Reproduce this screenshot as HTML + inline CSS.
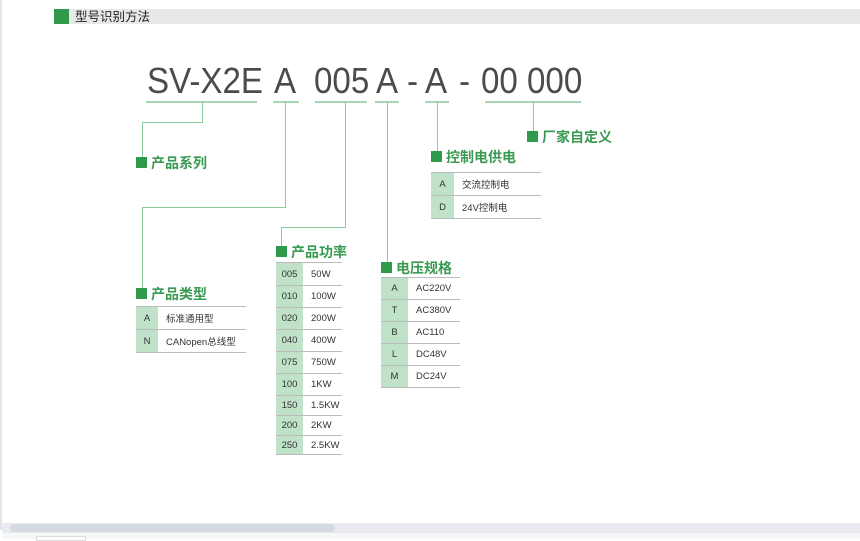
<!DOCTYPE html>
<html><head><meta charset="utf-8"><style>
body{margin:0;width:860px;height:539px;background:#fff;position:relative;overflow:hidden;font-family:"Liberation Sans","Noto Sans CJK SC",sans-serif}
.a{position:absolute}
.l{position:absolute;background:#8ccaa0}
.u{position:absolute;background:#a8d6b4;height:2px;top:101px}
.big{position:absolute;top:61px;font-size:36px;color:#4b4b4b;line-height:40px;transform:scaleX(0.92);transform-origin:left top}
.mk{position:absolute;width:11px;height:11px;background:#2f9a4c}
.lb{position:absolute;font-size:14px;font-weight:bold;color:#3a9a52;line-height:16px;white-space:nowrap}
table{position:absolute;border-collapse:collapse;font-size:9.5px;color:#333;border-top:1px solid #bbb}
td{border-bottom:1px solid #bbb;padding:0;line-height:normal}
td.k{background:#bfe2c9;text-align:center}
td.v{padding-left:8px}
</style></head><body>
<div class="a" style="left:0;top:0;width:2px;height:530px;background:#e4e4e4"></div>
<div class="a" style="left:54px;top:9px;width:806px;height:15px;background:#e8e8e8"></div>
<div class="a" style="left:54px;top:9px;width:15px;height:15px;background:#2f9a4c"></div>
<div class="a" style="left:75px;top:9px;font-size:12.5px;line-height:16px;color:#222">型号识别方法</div>

<div class="big" style="left:147px">SV-X2E</div>
<div class="big" style="left:274px">A</div>
<div class="big" style="left:314px">005</div>
<div class="big" style="left:376px">A</div>
<div class="big" style="left:407px">-</div>
<div class="big" style="left:425px">A</div>
<div class="big" style="left:459px">-</div>
<div class="big" style="left:481px">00</div>
<div class="big" style="left:527px">000</div>

<div class="u" style="left:146px;width:111px"></div>
<div class="u" style="left:273px;width:26px"></div>
<div class="u" style="left:315px;width:52px"></div>
<div class="u" style="left:375px;width:24px"></div>
<div class="u" style="left:425px;width:24px"></div>
<div class="u" style="left:485px;width:96px"></div>

<div class="l" style="left:202px;top:102px;width:1px;height:21px"></div>
<div class="l" style="left:142px;top:122px;width:61px;height:1px"></div>
<div class="l" style="left:142px;top:122px;width:1px;height:36px"></div>

<div class="l" style="left:285px;top:102px;width:1px;height:106px"></div>
<div class="l" style="left:142px;top:207px;width:144px;height:1px"></div>
<div class="l" style="left:142px;top:207px;width:1px;height:81px"></div>

<div class="l" style="left:345px;top:102px;width:1px;height:126px"></div>
<div class="l" style="left:281px;top:227px;width:65px;height:1px"></div>
<div class="l" style="left:281px;top:227px;width:1px;height:19px"></div>

<div class="l" style="left:387px;top:102px;width:1px;height:161px"></div>
<div class="l" style="left:437px;top:102px;width:1px;height:50px"></div>
<div class="l" style="left:533px;top:102px;width:1px;height:30px"></div>

<div class="mk" style="left:136px;top:157px"></div><div class="lb" style="left:151px;top:155px">产品系列</div>
<div class="mk" style="left:136px;top:288px"></div><div class="lb" style="left:151px;top:286px">产品类型</div>
<div class="mk" style="left:276px;top:246px"></div><div class="lb" style="left:291px;top:244px">产品功率</div>
<div class="mk" style="left:381px;top:262px"></div><div class="lb" style="left:396px;top:260px">电压规格</div>
<div class="mk" style="left:431px;top:151px"></div><div class="lb" style="left:446px;top:149px">控制电供电</div>
<div class="mk" style="left:527px;top:131px"></div><div class="lb" style="left:542px;top:129px">厂家自定义</div>

<table style="left:136px;top:306px;width:110px">
<tr style="height:23px"><td class="k" style="width:22px">A</td><td class="v">标准通用型</td></tr>
<tr style="height:23px"><td class="k">N</td><td class="v">CANopen总线型</td></tr>
</table>

<table style="left:276px;top:262px;width:66px">
<tr style="height:23px"><td class="k" style="width:27px">005</td><td class="v">50W</td></tr>
<tr style="height:22px"><td class="k">010</td><td class="v">100W</td></tr>
<tr style="height:22px"><td class="k">020</td><td class="v">200W</td></tr>
<tr style="height:22px"><td class="k">040</td><td class="v">400W</td></tr>
<tr style="height:22px"><td class="k">075</td><td class="v">750W</td></tr>
<tr style="height:22px"><td class="k">100</td><td class="v">1KW</td></tr>
<tr style="height:20px"><td class="k">150</td><td class="v">1.5KW</td></tr>
<tr style="height:20px"><td class="k">200</td><td class="v">2KW</td></tr>
<tr style="height:19px"><td class="k">250</td><td class="v">2.5KW</td></tr>
</table>

<table style="left:381px;top:277px;width:79px">
<tr style="height:22px"><td class="k" style="width:27px">A</td><td class="v">AC220V</td></tr>
<tr style="height:22px"><td class="k">T</td><td class="v">AC380V</td></tr>
<tr style="height:22px"><td class="k">B</td><td class="v">AC110</td></tr>
<tr style="height:22px"><td class="k">L</td><td class="v">DC48V</td></tr>
<tr style="height:22px"><td class="k">M</td><td class="v">DC24V</td></tr>
</table>

<table style="left:431px;top:172px;width:110px">
<tr style="height:23px"><td class="k" style="width:23px">A</td><td class="v">交流控制电</td></tr>
<tr style="height:23px"><td class="k">D</td><td class="v">24V控制电</td></tr>
</table>

<div class="a" style="left:2px;top:523px;width:858px;height:10px;background:#e9ebf0"></div>
<div class="a" style="left:10px;top:524px;width:325px;height:8px;border-radius:4px;background:#d5d9e0"></div>
<div class="a" style="left:2px;top:533px;width:858px;height:6px;background:#f6f7f9"></div>
<div class="a" style="left:36px;top:536px;width:48px;height:3px;background:#fff;border:1px solid #ddd"></div>
</body></html>
